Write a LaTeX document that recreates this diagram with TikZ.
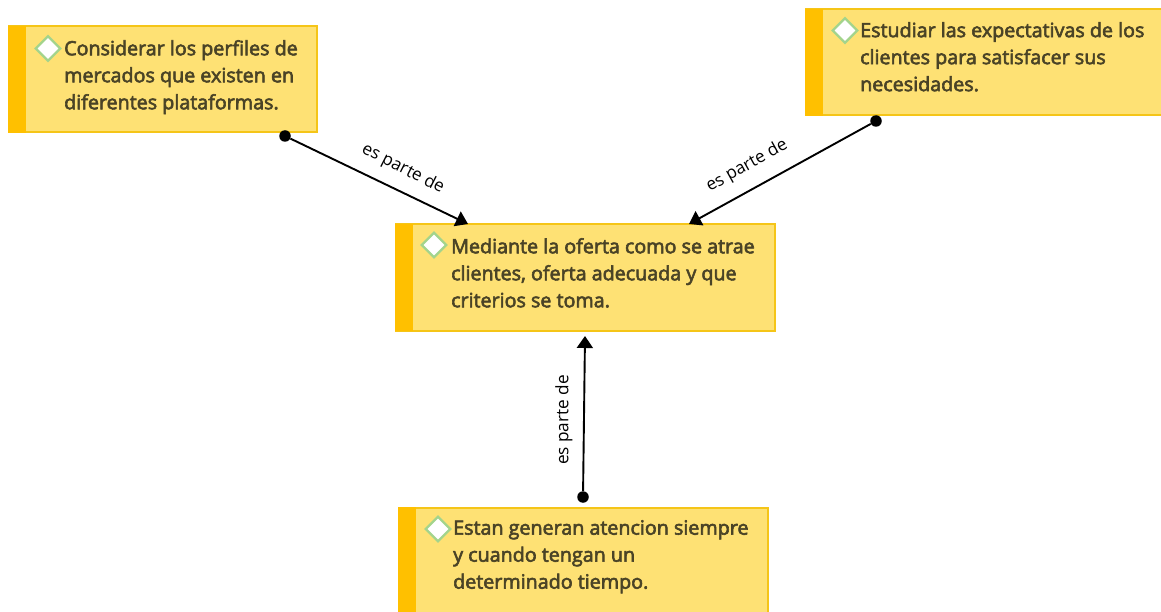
\documentclass[tikz,border=0pt]{standalone}
\usepackage{fontspec}
\setmainfont{Open Sans}
\newfontfamily\boxfont[FakeBold=3]{Open Sans}
\usetikzlibrary{shapes.geometric,arrows.meta,calc}
\definecolor{boxfill}{HTML}{FEE174}
\definecolor{boxline}{HTML}{F5C518}
\definecolor{stripecol}{HTML}{FFC000}
\definecolor{txtcol}{HTML}{4A4326}
\definecolor{diamline}{HTML}{A3D48C}
\tikzset{
  card/.style={draw=boxline,line width=2pt,fill=boxfill,anchor=north west,inner sep=0pt,outer sep=0pt,rectangle},
  stripecard/.style={fill=stripecol,anchor=north west,inner sep=0pt,outer sep=0pt,rectangle,minimum width=18pt},
  gem/.style={diamond,draw=diamline,line width=2.4pt,fill=white,inner sep=0pt,minimum width=25.5pt,minimum height=25.5pt,aspect=1},
  cardtext/.style={anchor=north west,align=left,inner sep=0pt,text=txtcol,font=\boxfont\fontsize{19.7pt}{27pt}\selectfont},
  pin/.style={circle,fill=black,inner sep=0pt,minimum size=11.5pt},
  link/.style={draw=black,line width=1.9pt,-{Triangle[length=12pt,width=16pt]}},
  linklabel/.style={font=\fontsize{17.2pt}{20pt}\selectfont,text=black,inner sep=0pt},
}
\begin{document}
\begin{tikzpicture}[x=1pt,y=-1pt]
\useasboundingbox (0,0) rectangle (1161,612);
\fill[white] (0,0) rectangle (1161,612);
\clip (0,0) rectangle (1161,612);
% cards
\node[card,minimum width=308pt,minimum height=106pt] (a) at (8.5,26.5) {};
\node[stripecard,minimum height=107pt] (as) at (8,26) {};
\node[gem] (ag) at (48,48.5) {};
\node[cardtext] (at) at (64,40) {Considerar los perfiles de\\mercados que existen en\\diferentes plataformas.};

\node[card,minimum width=370pt,minimum height=106pt] (b) at (805.5,9.5) {};
\node[stripecard,minimum height=107pt] (bs) at (805,9) {};
\node[gem] (bg) at (845,30.5) {};
\node[cardtext] (bt) at (860,22) {Estudiar las expectativas de los\\clientes para satisfacer sus\\necesidades.};

\node[card,minimum width=379pt,minimum height=106pt] (c) at (395.5,224.5) {};
\node[stripecard,minimum height=107pt] (cs) at (395,224) {};
\node[gem] (cg) at (434,245) {};
\node[cardtext] (ct) at (451,238) {Mediante la oferta como se atrae\\clientes, oferta adecuada y que\\criterios se toma.};

\node[card,minimum width=369pt,minimum height=115pt] (d) at (398.5,507.5) {};
\node[stripecard,minimum height=115pt] (ds) at (398,507) {};
\node[gem] (dg) at (438,529) {};
\node[cardtext] (dt) at (453,520) {Estan generan atencion siempre\\y cuando tengan un\\determinado tiempo.};

% pins and connector ends
\node[pin] (pa) at (285,136) {};
\node[pin] (pb) at (876,121) {};
\node[pin] (pd) at (583,497) {};
\coordinate (ca) at (468,224);
\coordinate (cb) at (689,224);
\coordinate (cd) at (585,336);

\draw[link] (pa) -- (ca);
\draw[link] (pb) -- (cb);
\draw[link] (pd) -- (cd);

\node[linklabel,rotate=-27] (la) at (403,169) {es parte de};
\node[linklabel,rotate=29] (lb) at (747,166) {es parte de};
\node[linklabel,rotate=90] (ld) at (564,420) {es parte de};
\end{tikzpicture}
\end{document}
